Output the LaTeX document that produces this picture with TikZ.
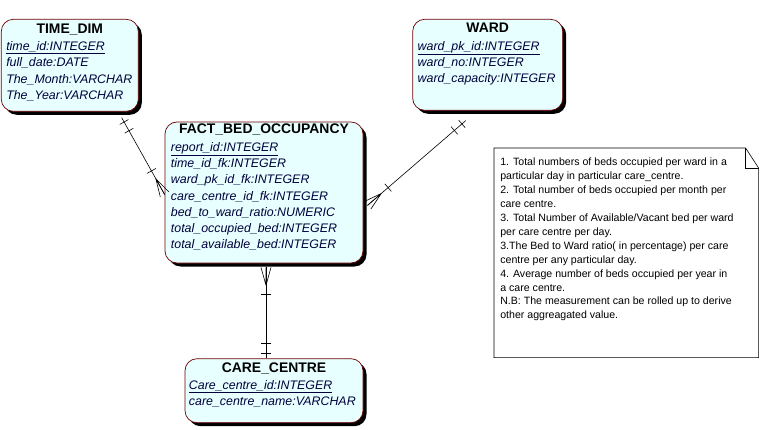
\documentclass[tikz,border=0pt]{standalone}
\usepackage{fontspec}
\setmainfont{Liberation Sans}
\usetikzlibrary{positioning,shadows,decorations.markings}

\definecolor{entfill}{RGB}{232,255,255}
\definecolor{entline}{RGB}{110,0,0}
\definecolor{attrtext}{RGB}{0,0,60}

\tikzset{
  entity/.style={draw=entline, fill=entfill, line width=0.7pt, rounded corners=12pt,
    drop shadow={shadow xshift=3.5pt, shadow yshift=-3.5pt, fill=black, opacity=1}},
  etitle/.style={anchor=base, inner sep=0pt, font=\fontsize{13.9}{16}\selectfont\bfseries},
  attrs/.style={anchor=north west, inner sep=0pt, align=left, text=attrtext,
    font=\fontsize{12.4}{16.2}\selectfont\itshape},
  notetext/.style={anchor=north west, inner sep=0pt, align=left,
    font=\fontsize{10.6}{13.9}\selectfont},
  onebar/.style={postaction={decorate, decoration={markings,
    mark=at position 5pt with {\draw (0,-5pt) -- (0,5pt);},
    mark=at position 15pt with {\draw (0,-5pt) -- (0,5pt);}}}},
  crowfoot/.style={postaction={decorate, decoration={markings,
    mark=at position -27pt with {\draw (0,-5pt) -- (0,5pt);},
    mark=at position -18pt with {\draw (0,0) -- (18pt,5pt) (0,0) -- (18pt,0) (0,0) -- (18pt,-5pt);}}}},
}

\begin{document}
\begin{tikzpicture}[x=1pt, y=-1pt, line width=0.6pt]
  \useasboundingbox (0,0) rectangle (765,430);

  % entities
  \node[entity, minimum width=198pt, minimum height=141pt] (fact) at (264,192.5) {};
  \node[entity, minimum width=137pt, minimum height=92pt, above left=10pt and 26pt of fact.north west] (time) {};
  \node[entity, minimum width=150pt, minimum height=91pt, above right=11pt and 49pt of fact.north east] (ward) {};
  \node[entity, minimum width=178pt, minimum height=64pt, below=95pt of fact, xshift=10pt] (care) {};

  \node[etitle] (time title) at ([yshift=-15pt]time.north) {TIME\_DIM};
  \node[attrs] (time attrs) at ([xshift=5pt,yshift=-22.5pt]time.north west)
    {\underline{time\_id:INTEGER}\\ full\_date:DATE\\ The\_Month:VARCHAR\\ The\_Year:VARCHAR};

  \node[etitle] (fact title) at ([yshift=-12pt]fact.north) {FACT\_BED\_OCCUPANCY};
  \node[attrs] (fact attrs) at ([xshift=6pt,yshift=-20.5pt]fact.north west)
    {\underline{report\_id:INTEGER}\\ time\_id\_fk:INTEGER\\ ward\_pk\_id\_fk:INTEGER\\
     care\_centre\_id\_fk:INTEGER\\ bed\_to\_ward\_ratio:NUMERIC\\
     total\_occupied\_bed:INTEGER\\ total\_available\_bed:INTEGER};

  \node[etitle] (ward title) at ([yshift=-14pt]ward.north) {WARD};
  \node[attrs] (ward attrs) at ([xshift=5pt,yshift=-22pt]ward.north west)
    {\underline{ward\_pk\_id:INTEGER}\\ ward\_no:INTEGER\\ ward\_capacity:INTEGER};

  \node[etitle] (care title) at ([yshift=-14pt]care.north) {CARE\_CENTRE};
  \node[attrs] (care attrs) at ([xshift=4pt,yshift=-21.5pt]care.north west)
    {\underline{Care\_centre\_id:INTEGER}\\ care\_centre\_name:VARCHAR};

  % relationships
  \draw[onebar, crowfoot] ([xshift=-17pt,yshift=-6pt]time.south east) -- ([yshift=-2pt]fact.west);
  \draw[onebar, crowfoot] ([xshift=-22pt,yshift=-10pt]ward.south) -- ([xshift=4pt,yshift=-13pt]fact.east);
  \draw[onebar, crowfoot] ([xshift=-8pt]care.north) -- ([xshift=2pt,yshift=-4pt]fact.south);

  % note
  \node[minimum width=264pt, minimum height=209pt, inner sep=0pt, anchor=north west] (note) at (494,148) {};
  \draw (note.north west) -- ([xshift=-13pt]note.north east) -- ([yshift=-20pt]note.north east)
    -- (note.south east) -- (note.south west) -- cycle;
  \draw ([xshift=-13pt]note.north east) |- ([yshift=-20pt]note.north east);
  \node[notetext] (note text) at ([xshift=6pt,yshift=-10pt]note.north west)
    {1. Total numbers of beds occupied per ward in a\\
     particular day in particular care\_centre.\\
     2. Total number of beds occupied per month per\\
     care centre.\\
     3. Total Number of Available/Vacant bed per ward\\
     per care centre per day.\\
     3.The Bed to Ward ratio( in percentage) per care\\
     centre per any particular day.\\
     4. Average number of beds occupied per year in\\
     a care centre.\\
     N.B: The measurement can be rolled up to derive\\
     other aggreagated value.};
\end{tikzpicture}
\end{document}
